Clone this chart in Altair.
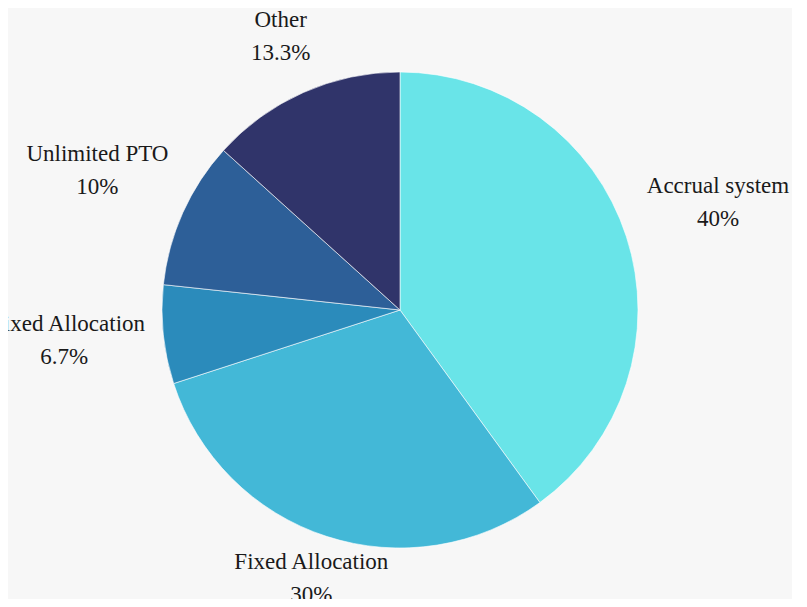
import altair as alt
import pandas as pd

categories = ["Accrual system", "Fixed Allocation", "Mixed Allocation", "Unlimited PTO", "Other"]
values = [40, 30, 6.7, 10, 13.3]
colors = ["#69e4e8", "#43b8d7", "#2b8bbb", "#2d5f98", "#30346a"]

df = pd.DataFrame({"category": categories, "value": values, "idx": list(range(len(categories)))})

base = alt.Chart(df).transform_joinaggregate(
    total="sum(value)"
).transform_window(
    cum="sum(value)", sort=[alt.SortField("idx")]
).transform_calculate(
    mid="(datum.cum - datum.value / 2) / datum.total * 2 * PI",
    r="264 + 74 * abs(sin(datum.mid))",
    label="datum.category + '\\n' + datum.value + '%'",
)

pie = base.mark_arc(outerRadius=238, stroke="#ffffff", strokeWidth=0.6).encode(
    theta=alt.Theta("value:Q", stack=True),
    color=alt.Color("category:N", scale=alt.Scale(domain=categories, range=colors), legend=None),
    order=alt.Order("idx:Q"),
)

labels = base.mark_text(
    font="serif", fontSize=23, color="#1a1a1a",
    lineBreak="\n", lineHeight=33, align="center", baseline="middle", dy=-21,
).encode(
    theta=alt.Theta("mid:Q", scale=None),
    radius=alt.Radius("r:Q", scale=None),
    text="label:N",
)

chart = alt.layer(pie, labels).resolve_scale(theta="independent").properties(
    width=784, height=578,
    autosize=alt.AutoSizeParams(type="none"),
    padding={"left": 0, "top": 13, "right": 0, "bottom": 0},
    background="#f7f7f7",
).configure_view(stroke=None)

chart.save("out.html", embed_options={"renderer": "svg", "actions": False})
